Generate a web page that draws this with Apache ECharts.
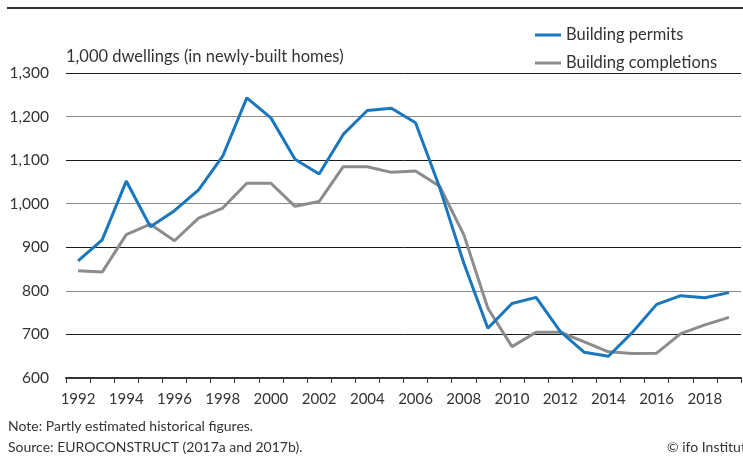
<!DOCTYPE html>
<html>
<head>
<meta charset="utf-8">
<script src="https://cdn.jsdelivr.net/npm/echarts@6/dist/echarts.min.js"></script>
<style>
  html, body { margin: 0; padding: 0; background: #fff; }
  #chart { width: 743px; height: 457px; }
</style>
</head>
<body>
<div id="chart"></div>
<script>
const years = [
  "1992", "1993", "1994", "1995", "1996", "1997", "1998", "1999", "2000", "2001",
  "2002", "2003", "2004", "2005", "2006", "2007", "2008", "2009", "2010", "2011",
  "2012", "2013", "2014", "2015", "2016", "2017", "2018", "2019"
];
const permits = [
  869, 917, 1052, 947, 984, 1032, 1109, 1243, 1197, 1102,
  1068, 1159, 1214, 1219, 1186, 1037, 864, 714, 771, 785,
  707, 659, 650, 705, 769, 789, 784, 796
];
const completions = [
  846, 843, 929, 953, 915, 967, 990, 1047, 1047, 994,
  1005, 1085, 1085, 1072, 1075, 1040, 929, 760, 672, 705,
  705, 683, 660, 656, 657, 702, 722, 739
];

const FONT = "Lato";
const TEXT = "#333";

const chart = echarts.init(document.getElementById("chart"));

chart.setOption({
  animation: false,
  textStyle: { fontFamily: FONT },
  title: {
    text: "1,000 dwellings (in newly-built homes)",
    left: 61,
    top: 43,
    textStyle: { fontSize: 16.5, fontWeight: "normal", color: TEXT, fontFamily: FONT }
  },
  legend: {
    orient: "vertical",
    left: 530,
    top: 21,
    icon: "rect",
    itemWidth: 26,
    itemHeight: 3,
    itemGap: 10,
    textStyle: { fontSize: 16.5, lineHeight: 18, color: TEXT, fontFamily: FONT },
    data: ["Building permits", "Building completions"]
  },
  grid: {
    left: 66,
    right: 2,
    top: 73,
    bottom: 79,
    containLabel: false
  },
  xAxis: {
    type: "category",
    data: years,
    boundaryGap: true,
    axisLine: { lineStyle: { color: "#333", width: 2 } },
    axisTick: { show: true, interval: 0, length: 5, lineStyle: { color: "#333", width: 1 } },
    axisLabel: { interval: 1, color: TEXT, fontSize: 15, margin: 14, fontFamily: FONT },
    splitLine: { show: false }
  },
  yAxis: {
    type: "value",
    min: 600,
    max: 1300,
    interval: 100,
    axisLine: { show: false },
    axisTick: { show: false },
    axisLabel: {
      color: TEXT,
      fontSize: 15.5,
      margin: 17,
      fontFamily: FONT,
      formatter: (v) => v.toLocaleString("en-US")
    },
    splitLine: { lineStyle: { color: ["#8a8a8a", "#1a1a1a"], width: 1 } }
  },
  series: [
    {
      name: "Building permits",
      type: "line",
      data: permits,
      symbol: "none",
      color: "#1a76bd",
      lineStyle: { width: 3, color: "#1a76bd" },
      z: 3
    },
    {
      name: "Building completions",
      type: "line",
      data: completions,
      symbol: "none",
      color: "#8c8c8c",
      lineStyle: { width: 3, color: "#8c8c8c" },
      z: 2
    }
  ],
  graphic: [
    {
      type: "rect",
      shape: { x: 7, y: 7, width: 736, height: 2 },
      style: { fill: "#333" }
    },
    {
      type: "text",
      left: 8,
      top: 419,
      style: { text: "Note: Partly estimated historical figures.", fontSize: 14, fill: TEXT, fontFamily: FONT }
    },
    {
      type: "text",
      left: 8,
      top: 440,
      style: { text: "Source: EUROCONSTRUCT (2017a and 2017b).", fontSize: 14, fill: TEXT, fontFamily: FONT }
    },
    {
      type: "text",
      left: 667,
      top: 440,
      style: { text: "© ifo Institute", fontSize: 14, fill: TEXT, fontFamily: FONT }
    }
  ]
});
</script>
</body>
</html>
